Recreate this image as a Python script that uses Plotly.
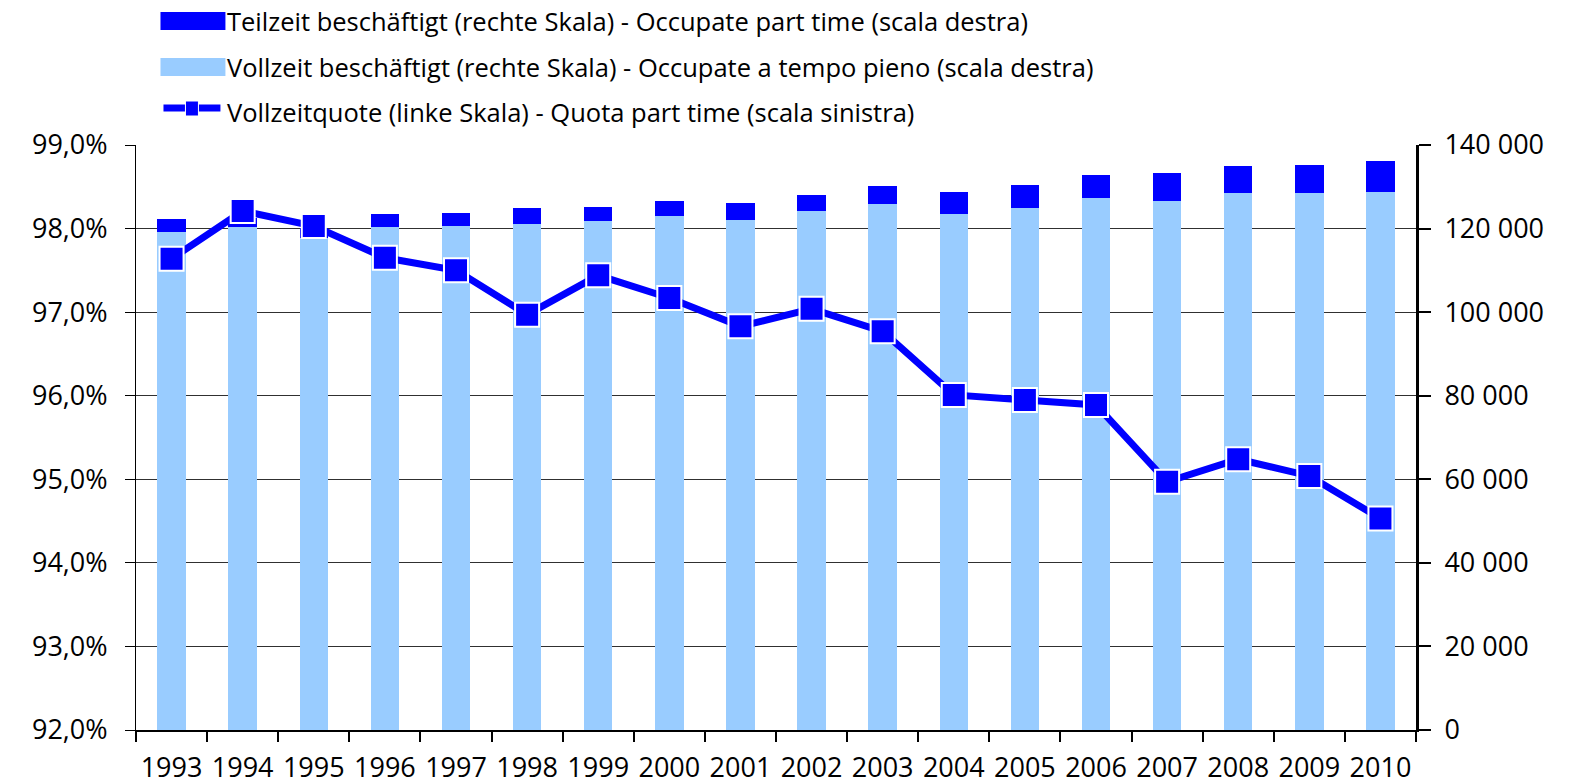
import plotly.graph_objects as go

years = [str(y) for y in range(1993, 2011)]
vollzeit = [119250, 120450, 117740, 120370, 120610, 121090, 121800, 123000, 122040,
            124200, 125870, 123480, 124910, 127310, 126590, 128500, 128500, 128740]
teilzeit = [2950, 2200, 2400, 3000, 3200, 3900, 3300, 3700, 4050,
            3950, 4250, 5200, 5400, 5600, 6800, 6450, 6700, 7420]
quote = [0.9764, 0.9821, 0.9803, 0.9765, 0.9750, 0.9697, 0.9744, 0.9717, 0.9683,
         0.9704, 0.9677, 0.9601, 0.9595, 0.9589, 0.9497, 0.9524, 0.9504, 0.9453]

legend_labels = [
    "Teilzeit beschäftigt (rechte Skala) - Occupate part time (scala destra)",
    "Vollzeit beschäftigt (rechte Skala) - Occupate a tempo pieno (scala destra)",
    "Vollzeitquote (linke Skala) - Quota part time (scala sinistra)",
]

DARK = "#0000FF"
LIGHT = "#99CCFF"
FONT = "Open Sans"

W, H = 1569, 784
L, R, T, B = 135.5, 1416.5, 145, 730

fig = go.Figure()
fig.add_trace(go.Bar(x=years, y=vollzeit, marker=dict(color=LIGHT, line=dict(width=0)),
                     name=legend_labels[1], yaxis="y"))
fig.add_trace(go.Bar(x=years, y=teilzeit, marker=dict(color=DARK, line=dict(width=0)),
                     name=legend_labels[0], yaxis="y"))
fig.add_trace(go.Scatter(x=years, y=quote, mode="lines+markers", yaxis="y2",
                         line=dict(color=DARK, width=7),
                         marker=dict(symbol="square", size=24, color=DARK,
                                     line=dict(color="white", width=2)),
                         name=legend_labels[2]))

def px(x):
    return (x - L) / (R - L)

def py(y):
    return (B - y) / (B - T)

shapes = []
annotations = []
rows = [21, 67, 112]
shapes.append(dict(type="rect", xref="paper", yref="paper", x0=px(160), x1=px(225),
                   y0=py(30), y1=py(12), fillcolor=DARK, line=dict(width=0), layer="above"))
shapes.append(dict(type="rect", xref="paper", yref="paper", x0=px(160), x1=px(225),
                   y0=py(76), y1=py(58), fillcolor=LIGHT, line=dict(width=0), layer="above"))
shapes.append(dict(type="line", xref="paper", yref="paper", x0=px(163), x1=px(220),
                   y0=py(108), y1=py(108), line=dict(color=DARK, width=7), layer="above"))
shapes.append(dict(type="rect", xref="paper", yref="paper", x0=px(185), x1=px(198),
                   y0=py(116), y1=py(101), fillcolor=DARK, line=dict(color="white", width=1), layer="above"))
for i, lab in enumerate(legend_labels):
    annotations.append(dict(text=lab, xref="paper", yref="paper", x=px(225), y=py(rows[i]),
                            xanchor="left", yanchor="middle", showarrow=False,
                            font=dict(family=FONT, size=25.5, color="black")))

fig.update_layout(
    width=W, height=H,
    margin=dict(l=L, r=W - R, t=T, b=H - B, autoexpand=False),
    paper_bgcolor="white", plot_bgcolor="white",
    barmode="stack", bargap=0.6,
    separators=", ",
    showlegend=False,
    font=dict(family=FONT, size=27, color="black"),
    xaxis=dict(type="category", range=[-0.5, 17.5], showgrid=False, automargin=False,
               tickangle=0,
               ticks="outside", tickson="boundaries", ticklen=10, tickwidth=2,
               tickcolor="black", showline=True, linecolor="black", linewidth=2,
               tickfont=dict(size=27), ticklabelstandoff=13),
    yaxis=dict(side="right", range=[0, 140000], dtick=20000, tickformat=",d",
               showgrid=True, gridcolor="#303030", gridwidth=1, automargin=False,
               ticks="outside", ticklen=12, tickwidth=2, tickcolor="black",
               showline=True, linecolor="black", linewidth=3,
               tickfont=dict(size=27), zeroline=False, ticklabelstandoff=8),
    yaxis2=dict(side="left", overlaying="y", range=[0.92, 0.99], dtick=0.01,
                tickformat=".1%", showgrid=False, ticks="outside", ticklen=10, automargin=False,
                tickwidth=1, tickcolor="black", showline=True, linecolor="black",
                linewidth=1, tickfont=dict(size=27), zeroline=False, ticklabelstandoff=12),
    shapes=shapes, annotations=annotations,
)

fig.write_html("out.html", config={"displayModeBar": False},
               post_script="document.body.style.margin='0';document.body.style.overflow='hidden';")
